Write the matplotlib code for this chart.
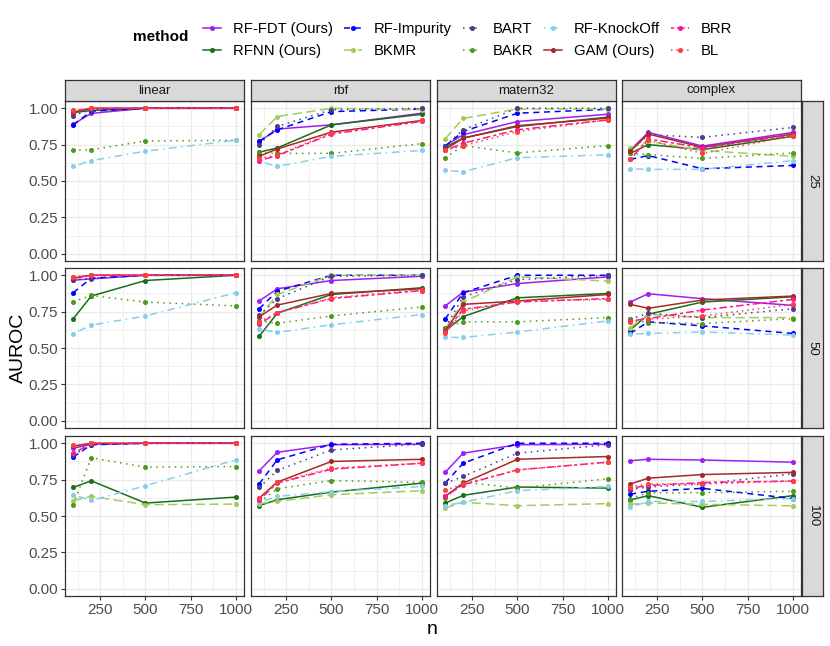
import numpy as np
import matplotlib.pyplot as plt
from matplotlib.lines import Line2D

plt.rcParams['font.family'] = ['Liberation Sans', 'DejaVu Sans']

# ===========================================================
# Data: AUROC at n = 100, 200, 500, 1000 (rows follow `methods`)
# ===========================================================
n_values = [100, 200, 500, 1000]
kernels = ["linear", "rbf", "matern32", "complex"]
dims = ["25", "50", "100"]
methods = ["RF-FDT (Ours)", "RFNN (Ours)", "RF-Impurity", "BKMR", "BART",
           "BAKR", "RF-KnockOff", "GAM (Ours)", "BRR", "BL"]

linear_25 = [[0.89, 0.965, 1.0, 1.0], [0.97, 0.985, 1.0, 1.0], [0.885, 0.98, 1.0, 1.0],
             [0.98, 1.0, 1.0, 1.0], [0.95, 0.99, 1.0, 1.0], [0.71, 0.715, 0.775, 0.78],
             [0.60, 0.64, 0.705, 0.78], [0.97, 1.0, 1.0, 1.0], [0.98, 1.0, 1.0, 1.0],
             [0.985, 1.0, 1.0, 1.0]]
rbf_25 = [[0.77, 0.857, 0.886, 0.966], [0.698, 0.727, 0.886, 0.959], [0.773, 0.852, 0.977, 0.995],
          [0.818, 0.943, 1.0, 0.99], [0.75, 0.875, 0.99, 1.0], [0.693, 0.69, 0.69, 0.757],
          [0.636, 0.60, 0.67, 0.71], [0.67, 0.72, 0.836, 0.916], [0.64, 0.675, 0.823, 0.91],
          [0.655, 0.68, 0.83, 0.916]]
matern32_25 = [[0.743, 0.818, 0.909, 0.959], [0.732, 0.795, 0.875, 0.939], [0.74, 0.84, 0.966, 0.993],
               [0.79, 0.93, 0.995, 0.995], [0.743, 0.852, 1.0, 1.0], [0.66, 0.743, 0.693, 0.743],
               [0.573, 0.564, 0.66, 0.68], [0.716, 0.795, 0.88, 0.932], [0.71, 0.76, 0.852, 0.92],
               [0.71, 0.743, 0.84, 0.92]]
complex_25 = [[0.71, 0.834, 0.74, 0.834], [0.69, 0.75, 0.716, 0.807], [0.648, 0.675, 0.584, 0.607],
              [0.727, 0.773, 0.71, 0.67], [0.705, 0.818, 0.80, 0.868], [0.69, 0.682, 0.655, 0.693],
              [0.584, 0.58, 0.58, 0.64], [0.705, 0.823, 0.732, 0.823], [0.648, 0.79, 0.727, 0.818],
              [0.648, 0.78, 0.69, 0.81]]

linear_50 = [[0.966, 0.975, 1.0, 1.0], [0.70, 0.857, 0.964, 1.0], [0.88, 0.98, 1.0, 1.0],
             [0.98, 1.0, 1.0, 1.0], [0.97, 0.98, 1.0, 1.0], [0.818, 0.861, 0.816, 0.789],
             [0.598, 0.657, 0.72, 0.88], [0.98, 1.0, 1.0, 1.0], [0.985, 1.0, 1.0, 1.0],
             [0.99, 1.0, 1.0, 1.0]]
rbf_50 = [[0.823, 0.907, 0.964, 0.993], [0.58, 0.739, 0.868, 0.914], [0.77, 0.89, 1.0, 1.0],
          [0.71, 0.868, 1.0, 1.0], [0.725, 0.839, 0.993, 1.0], [0.686, 0.67, 0.72, 0.782],
          [0.63, 0.607, 0.66, 0.73], [0.714, 0.795, 0.875, 0.907], [0.664, 0.743, 0.84, 0.895],
          [0.68, 0.743, 0.845, 0.902]]
matern32_50 = [[0.789, 0.884, 0.943, 0.989], [0.618, 0.716, 0.845, 0.875], [0.698, 0.88, 1.0, 1.0],
               [0.63, 0.816, 0.99, 0.96], [0.64, 0.852, 0.97, 1.0], [0.64, 0.68, 0.68, 0.709],
               [0.573, 0.573, 0.61, 0.686], [0.618, 0.80, 0.823, 0.868], [0.61, 0.766, 0.816, 0.84],
               [0.60, 0.755, 0.823, 0.834]]
complex_50 = [[0.816, 0.873, 0.839, 0.793], [0.623, 0.732, 0.816, 0.852], [0.60, 0.68, 0.652, 0.60],
              [0.64, 0.732, 0.709, 0.709], [0.698, 0.739, 0.709, 0.77], [0.698, 0.675, 0.668, 0.702],
              [0.595, 0.60, 0.61, 0.589], [0.80, 0.773, 0.83, 0.857], [0.686, 0.702, 0.761, 0.834],
              [0.68, 0.698, 0.72, 0.80]]

linear_100 = [[0.966, 0.993, 1.0, 1.0], [0.696, 0.742, 0.589, 0.63], [0.905, 0.99, 1.0, 1.0],
              [0.605, 0.635, 0.578, 0.582], [0.92, 0.99, 1.0, 1.0], [0.578, 0.90, 0.836, 0.84],
              [0.646, 0.607, 0.708, 0.886], [0.98, 1.0, 1.0, 1.0], [0.93, 1.0, 1.0, 1.0],
              [0.985, 1.0, 1.0, 1.0]]
rbf_100 = [[0.81, 0.938, 0.99, 0.993], [0.571, 0.612, 0.664, 0.726], [0.72, 0.886, 0.993, 1.0],
           [0.585, 0.60, 0.646, 0.674], [0.696, 0.813, 0.954, 0.995], [0.594, 0.687, 0.744, 0.731],
           [0.594, 0.635, 0.667, 0.703], [0.623, 0.733, 0.875, 0.89], [0.61, 0.726, 0.822, 0.863],
           [0.623, 0.731, 0.829, 0.863]]
matern32_100 = [[0.80, 0.932, 0.99, 0.993], [0.589, 0.642, 0.699, 0.692], [0.726, 0.863, 1.0, 1.0],
                [0.555, 0.594, 0.571, 0.585], [0.726, 0.772, 0.932, 0.99], [0.623, 0.733, 0.692, 0.756],
                [0.571, 0.594, 0.674, 0.703], [0.635, 0.726, 0.89, 0.909], [0.635, 0.715, 0.817, 0.87],
                [0.676, 0.721, 0.817, 0.87]]
complex_100 = [[0.88, 0.89, 0.885, 0.87], [0.61, 0.64, 0.56, 0.64], [0.65, 0.67, 0.69, 0.62],
               [0.58, 0.59, 0.58, 0.57], [0.68, 0.70, 0.72, 0.79], [0.62, 0.66, 0.66, 0.67],
               [0.56, 0.60, 0.60, 0.62], [0.72, 0.76, 0.785, 0.80], [0.69, 0.71, 0.73, 0.74],
               [0.70, 0.72, 0.72, 0.74]]

panels = [[linear_25, rbf_25, matern32_25, complex_25],
          [linear_50, rbf_50, matern32_50, complex_50],
          [linear_100, rbf_100, matern32_100, complex_100]]

# ===========================================================
# Styles
# ===========================================================
colors = ["#A020F0", "#1A6E1A", "#0000FF", "#A2CD5A", "#483D8B",
          "#4F9A1C", "#87CEEB", "#A52A2A", "#FF1493", "#FF3E3E"]
styles = ["-", "-", (0, (4, 3)), (0, (6, 3)), (0, (1, 3)),
          (0, (1, 3)), (0, (1, 3, 5, 3)), "-", (0, (2, 2, 5, 2)), (0, (1, 2.5))]

W, H = 830, 646
fig = plt.figure(figsize=(W / 100, H / 100), dpi=100)

col_left = [65, 251, 437, 622]
row_top = [101, 268, 436]
pw, ph = 179, 160

def px_axes(x, y, w, h):
    return fig.add_axes([x / W, 1 - (y + h) / H, w / W, h / H])

for r in range(3):
    for c in range(4):
        ax = px_axes(col_left[c], row_top[r], pw, ph)
        ax.set_xlim(55, 1045)
        ax.set_ylim(-0.05, 1.05)
        ax.set_xticks([250, 500, 750, 1000])
        ax.set_xticks([125, 375, 625, 875], minor=True)
        ax.set_yticks([0, 0.25, 0.5, 0.75, 1.0])
        ax.set_yticks([0.125, 0.375, 0.625, 0.875], minor=True)
        ax.grid(which='major', color='#EBEBEB', lw=1.0)
        ax.grid(which='minor', color='#EBEBEB', lw=0.5)
        ax.set_axisbelow(True)
        for s in ax.spines.values():
            s.set_color('#333333')
            s.set_linewidth(0.9)
        ax.tick_params(which='minor', length=0)
        ax.tick_params(which='major', length=3, width=0.8, color='#333333',
                       labelsize=11, labelcolor='#4D4D4D', pad=2)
        if c > 0:
            ax.tick_params(axis='y', length=0, labelleft=False)
        else:
            ax.set_yticklabels(["0.00", "0.25", "0.50", "0.75", "1.00"])
        if r < 2:
            ax.tick_params(axis='x', length=0, labelbottom=False)

        data = panels[r][c]
        for m in range(len(methods)):
            ax.plot(n_values, data[m], color=colors[m], linestyle=styles[m],
                    lw=1.1, marker='o', ms=2.6)

        if r == 0:
            st = px_axes(col_left[c], 80, pw, 21)
            st.set_facecolor('#D9D9D9')
            st.set_xticks([])
            st.set_yticks([])
            for s in st.spines.values():
                s.set_color('#333333')
                s.set_linewidth(0.9)
            st.text(0.5, 0.5, kernels[c], ha='center', va='center',
                    fontsize=9.5, color='#1A1A1A', transform=st.transAxes)
    rs = px_axes(802, row_top[r], 21, ph)
    rs.set_facecolor('#D9D9D9')
    rs.set_xticks([])
    rs.set_yticks([])
    for s in rs.spines.values():
        s.set_color('#333333')
        s.set_linewidth(0.9)
    rs.text(0.5, 0.5, dims[r], ha='center', va='center', rotation=-90,
            fontsize=9.5, color='#1A1A1A', transform=rs.transAxes)

fig.text(18 / W, 1 - 348 / H, "AUROC", rotation=90, ha='center', va='center', fontsize=14)
fig.text(432 / W, 1 - 630 / H, "n", ha='center', va='center', fontsize=14)

# ===========================================================
# Legend
# ===========================================================
handles = [Line2D([0], [0], color=colors[m], linestyle=styles[m], lw=1.1,
                  marker='o', ms=2.6) for m in range(len(methods))]
fig.legend(handles, methods, ncol=5, loc='upper left',
           bbox_to_anchor=(196 / W, 1 - 15 / H), frameon=False, fontsize=10.7,
           handlelength=1.2, handletextpad=0.8, columnspacing=0.75,
           labelspacing=0.5, borderpad=0)
fig.text(133 / W, 1 - 37 / H, "method", ha='left', va='center',
         fontsize=11, fontweight='bold')

fig.savefig("out.png", dpi=100)
